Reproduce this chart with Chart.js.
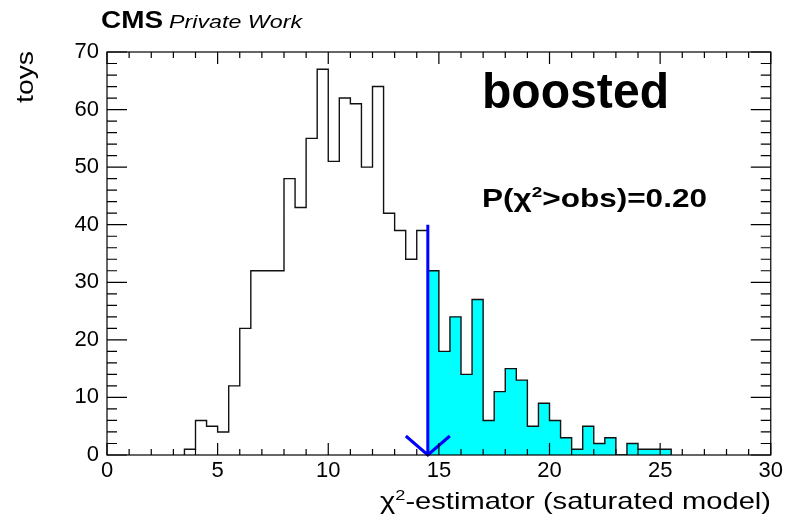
<!DOCTYPE html>
<html>
<head>
<meta charset="utf-8">
<script src="https://cdn.jsdelivr.net/npm/chart.js@4.4.1/dist/chart.umd.min.js"></script>
<style>
  html, body { margin: 0; padding: 0; background: #fff; }
  #wrap { width: 786px; height: 522px; position: relative; }
</style>
</head>
<body>
<div id="wrap"><canvas id="chi2Chart"></canvas></div>
<script>
// toys of the chi2 estimator, 0.5 wide bins (lower edges)
const binLowEdges = [3.5, 4.0, 4.5, 5.0, 5.5, 6.0, 6.5, 7.0, 7.5, 8.0, 8.5,
  9.0, 9.5, 10.0, 10.5, 11.0, 11.5, 12.0, 12.5, 13.0, 13.5, 14.0, 14.5,
  15.0, 15.5, 16.0, 16.5, 17.0, 17.5, 18.0, 18.5, 19.0, 19.5, 20.0, 20.5,
  21.0, 21.5, 22.0, 22.5, 23.0, 23.5, 24.0, 24.5, 25.0];
const toyCounts = [1, 6, 5, 4, 12, 22, 32, 32, 32, 48, 43,
  55, 67, 51, 62, 61, 50, 64, 42, 39, 34, 39, 32,
  18, 24, 14, 27, 6, 11, 15, 13, 5, 9, 6, 3,
  1, 5, 2, 3, 0, 2, 1, 1, 1];
const binWidth = 0.5;

// observed chi2 and the height of the arrow marking it
const observedChi2 = 14.5;
const arrowTop = 40;

const xRange = [0, 30];
const yRange = [0, 70];
const xMajorStep = 5, xMinorStep = 1;
const yMajorStep = 10, yMinorStep = 2;

const sans = '"Liberation Sans", Arial, Helvetica, sans-serif';

// outline points for a stepped line, starting at the first bin >= fromX
function stepPoints(fromX) {
    const pts = [];
    binLowEdges.forEach((lo, i) => {
        if (lo < fromX) return;
        if (!pts.length) pts.push({ x: lo, y: 0 });
        pts.push({ x: lo, y: toyCounts[i] });
    });
    pts.push({ x: binLowEdges[binLowEdges.length - 1] + binWidth, y: 0 });
    return pts;
}

// draws text pieces stretched to a given width (superscripts via rise)
function drawText(ctx, parts, x, y, width, angle) {
    let natural = 0;
    parts.forEach(p => {
        ctx.font = p.font;
        p.w = ctx.measureText(p.text).width;
        natural += p.w;
    });
    ctx.save();
    ctx.translate(x, y);
    if (angle) ctx.rotate(angle);
    ctx.scale(width / natural, 1);
    ctx.fillStyle = '#000';
    ctx.textAlign = 'left';
    ctx.textBaseline = 'alphabetic';
    let cx = 0;
    parts.forEach(p => {
        ctx.font = p.font;
        ctx.fillText(p.text, cx, -(p.rise || 0));
        cx += p.w;
    });
    ctx.restore();
}

const rootStyle = {
    id: 'rootStyle',
    afterDatasetsDraw(chart) {
        const { ctx, chartArea: a, scales: { x, y } } = chart;
        ctx.save();

        // arrow at the observed value
        const ox = x.getPixelForValue(observedChi2);
        ctx.strokeStyle = '#0000ff';
        ctx.lineWidth = 3;
        ctx.beginPath();
        ctx.moveTo(ox, y.getPixelForValue(arrowTop));
        ctx.lineTo(ox, a.bottom);
        ctx.moveTo(ox - 22, a.bottom - 19);
        ctx.lineTo(ox, a.bottom);
        ctx.lineTo(ox + 22, a.bottom - 19);
        ctx.stroke();

        // frame + inward ticks on all four sides
        ctx.strokeStyle = '#000';
        ctx.lineWidth = 1.2;
        ctx.strokeRect(a.left, a.top, a.right - a.left, a.bottom - a.top);
        ctx.beginPath();
        for (let v = xRange[0]; v <= xRange[1]; v += xMinorStep) {
            const px = x.getPixelForValue(v);
            const len = v % xMajorStep ? 6 : 12;
            ctx.moveTo(px, a.bottom); ctx.lineTo(px, a.bottom - len);
            ctx.moveTo(px, a.top); ctx.lineTo(px, a.top + len);
        }
        for (let v = yRange[0]; v <= yRange[1]; v += yMinorStep) {
            const py = y.getPixelForValue(v);
            const len = v % yMajorStep ? 10 : 20;
            ctx.moveTo(a.left, py); ctx.lineTo(a.left + len, py);
            ctx.moveTo(a.right, py); ctx.lineTo(a.right - len, py);
        }
        ctx.stroke();
        ctx.restore();
    },
    afterDraw(chart) {
        const ctx = chart.ctx;
        drawText(ctx, [{ text: 'CMS', font: `bold 23px ${sans}` }], 101, 28, 62);
        drawText(ctx, [{ text: 'Private Work', font: `italic 19px ${sans}` }], 169, 28, 133);
        drawText(ctx, [{ text: 'toys', font: `24px ${sans}` }], 33, 103, 52, -Math.PI / 2);
        drawText(ctx, [{ text: 'boosted', font: `bold 50px ${sans}` }], 482, 108, 187);
        drawText(ctx, [
            { text: 'P(', font: `bold 25px ${sans}` },
            { text: 'χ', font: `bold 25px ${sans}` },
            { text: '2', font: `bold 15px ${sans}`, rise: 10 },
            { text: '>obs)=0.20', font: `bold 25px ${sans}` }
        ], 482, 207, 225);
        drawText(ctx, [
            { text: 'χ', font: `24px ${sans}` },
            { text: '2', font: `15px ${sans}`, rise: 9 },
            { text: '-estimator (saturated model)', font: `24px ${sans}` }
        ], 380, 509, 391);
    }
};

const ctx = document.getElementById('chi2Chart').getContext('2d');
new Chart(ctx, {
    type: 'line',
    data: {
        datasets: [{
            label: 'toys',
            data: stepPoints(binLowEdges[0]),
            stepped: 'before',
            borderColor: '#111',
            borderWidth: 1.4,
            pointRadius: 0,
            fill: false,
            order: 0
        }, {
            label: 'toys above observed',
            data: stepPoints(observedChi2),
            stepped: 'before',
            borderWidth: 0,
            borderColor: 'rgba(0,0,0,0)',
            backgroundColor: '#00ffff',
            pointRadius: 0,
            fill: 'origin',
            order: 1
        }]
    },
    options: {
        responsive: true,
        maintainAspectRatio: false,
        animation: false,
        layout: { padding: { left: 0, right: 14, top: 52, bottom: 0 } },
        plugins: {
            legend: { display: false },
            tooltip: { enabled: false }
        },
        scales: {
            x: {
                type: 'linear',
                min: xRange[0],
                max: xRange[1],
                grid: { display: false, drawTicks: false },
                border: { display: false },
                ticks: {
                    stepSize: xMajorStep,
                    autoSkip: false,
                    maxRotation: 0,
                    padding: 3,
                    color: '#000',
                    font: { family: sans, size: 22 }
                },
                afterFit: s => { s.height = 67; }
            },
            y: {
                type: 'linear',
                min: yRange[0],
                max: yRange[1],
                grid: { display: false, drawTicks: false },
                border: { display: false },
                ticks: {
                    stepSize: yMajorStep,
                    padding: 8,
                    color: '#000',
                    font: { family: sans, size: 22 }
                },
                afterFit: s => { s.width = 107; }
            }
        }
    },
    plugins: [rootStyle]
});
</script>
</body>
</html>
